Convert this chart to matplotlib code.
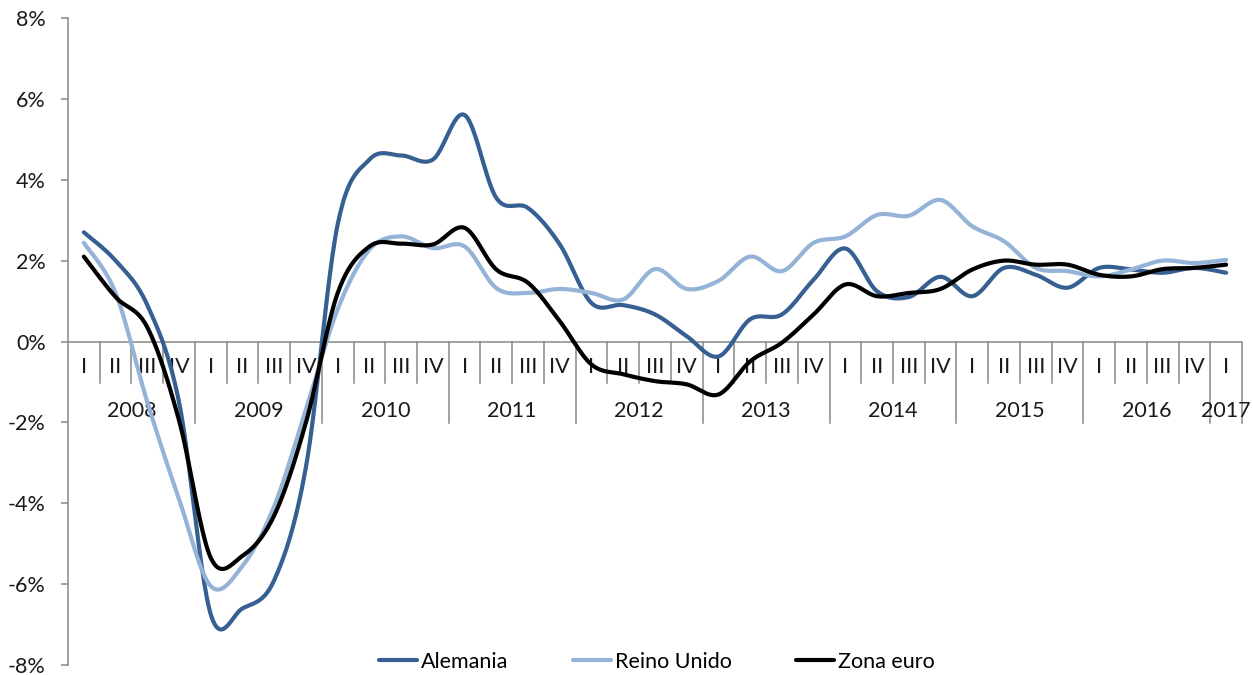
import numpy as np
import matplotlib
matplotlib.use("Agg")
import matplotlib.pyplot as plt
from matplotlib.lines import Line2D

plt.rcParams['font.family'] = ['Lato', 'DejaVu Sans']

# quarterly growth, 2008 Q1 .. 2017 Q1 (%)
years = ['2008', '2009', '2010', '2011', '2012', '2013', '2014', '2015', '2016', '2017']
quarters = ['I', 'II', 'III', 'IV']

alemania = [2.7, 2.0, 0.9, -1.5, -6.75, -6.6, -5.9, -3.1,
            2.9, 4.5, 4.6, 4.5, 5.6, 3.55, 3.3, 2.4,
            0.95, 0.9, 0.67, 0.13, -0.37, 0.55, 0.67, 1.53,
            2.3, 1.24, 1.1, 1.6, 1.12, 1.82, 1.65, 1.33,
            1.82, 1.78, 1.7, 1.82, 1.7]
reino_unido = [2.44, 1.2, -1.5, -3.9, -6.05, -5.55, -4.07, -1.68,
               0.8, 2.27, 2.6, 2.31, 2.35, 1.32, 1.2, 1.3,
               1.2, 1.04, 1.79, 1.3, 1.5, 2.1, 1.74, 2.44,
               2.6, 3.13, 3.11, 3.5, 2.85, 2.48, 1.82, 1.74,
               1.61, 1.78, 2.0, 1.94, 2.02]
zona_euro = [2.1, 1.1, 0.35, -1.95, -5.35, -5.3, -4.3, -2.0,
             1.2, 2.35, 2.42, 2.4, 2.81, 1.78, 1.45, 0.5,
             -0.57, -0.81, -0.98, -1.06, -1.31, -0.49, -0.03, 0.67,
             1.41, 1.12, 1.2, 1.3, 1.78, 2.0, 1.9, 1.9,
             1.65, 1.61, 1.79, 1.82, 1.9]

series = [("Alemania", alemania, "#376092"),
          ("Reino Unido", reino_unido, "#95B3D7"),
          ("Zona euro", zona_euro, "#000000")]

GRAY = "#878787"
TXT = "#1a1a1a"


def smooth(xs, ys, n=24):
    """Catmull-Rom style bezier like Excel's smoothed line."""
    xs = np.asarray(xs, float)
    ys = np.asarray(ys, float)
    px = np.r_[xs[0], xs, xs[-1]]
    py = np.r_[ys[0], ys, ys[-1]]
    t = np.linspace(0, 1, n, endpoint=False)[:, None]
    ox, oy = [], []
    for i in range(len(xs) - 1):
        for arr, out in ((px, ox), (py, oy)):
            p0, p1, p2, p3 = arr[i], arr[i + 1], arr[i + 2], arr[i + 3]
            c1 = p1 + (p2 - p0) / 6
            c2 = p2 - (p3 - p1) / 6
            b = ((1 - t) ** 3 * p1 + 3 * (1 - t) ** 2 * t * c1
                 + 3 * (1 - t) * t ** 2 * c2 + t ** 3 * p2)
            out.extend(b.ravel())
    ox.append(xs[-1])
    oy.append(ys[-1])
    return np.array(ox), np.array(oy)


fig = plt.figure(figsize=(12.53, 6.75), dpi=100)
ax = fig.add_axes([68 / 1253, 10 / 675, 1174 / 1253, 647 / 675])

n = len(alemania)
x = np.arange(n)
ax.set_xlim(-0.5, n - 0.5)
ax.set_ylim(-8, 8)

# category axis drawn at zero
ax.axhline(0, color=GRAY, lw=1.1, zorder=1)
for i in range(1, n + 1):
    bx = i - 0.5
    depth = -2.02 if (i % 4 == 0 or i == n) else -1.02
    ax.plot([bx, bx], [0, depth], color=GRAY, lw=1.1, zorder=1, clip_on=False)
for i in range(n):
    ax.text(i, -0.64, quarters[i % 4], ha='center', va='center',
            fontsize=15.5, color=TXT)
for k, yr in enumerate(years):
    cx = 4 * k + 1.5 if k < len(years) - 1 else n - 1
    ax.text(cx, -1.73, yr, ha='center', va='center',
            fontsize=15.5, color=TXT)

handles = []
for name, vals, col in series:
    sx, sy = smooth(x, vals)
    ax.plot(sx, sy, color=col, lw=3.0, solid_capstyle='round', zorder=3)
    handles.append(Line2D([], [], color=col, lw=3.0, solid_capstyle='round', label=name))

ax.set_yticks(np.arange(-8, 9, 2))
ax.set_yticklabels([f"{v}%" for v in range(-8, 9, 2)])
ax.set_xticks([])
for s in ['top', 'right', 'bottom']:
    ax.spines[s].set_visible(False)
ax.spines['left'].set_color(GRAY)
ax.spines['left'].set_linewidth(1.1)
ax.tick_params(axis='y', direction='out', length=5, width=1.1, color=GRAY,
               labelsize=15.5, labelcolor=TXT, pad=11)

fig.legend(handles=handles, loc='center', ncol=3, frameon=False,
           bbox_to_anchor=(657 / 1253, 1 - 662 / 675),
           prop={'size': 15.5},
           handlelength=1.75, handletextpad=0.2, columnspacing=3.0)

fig.savefig("out.png", dpi=100)
